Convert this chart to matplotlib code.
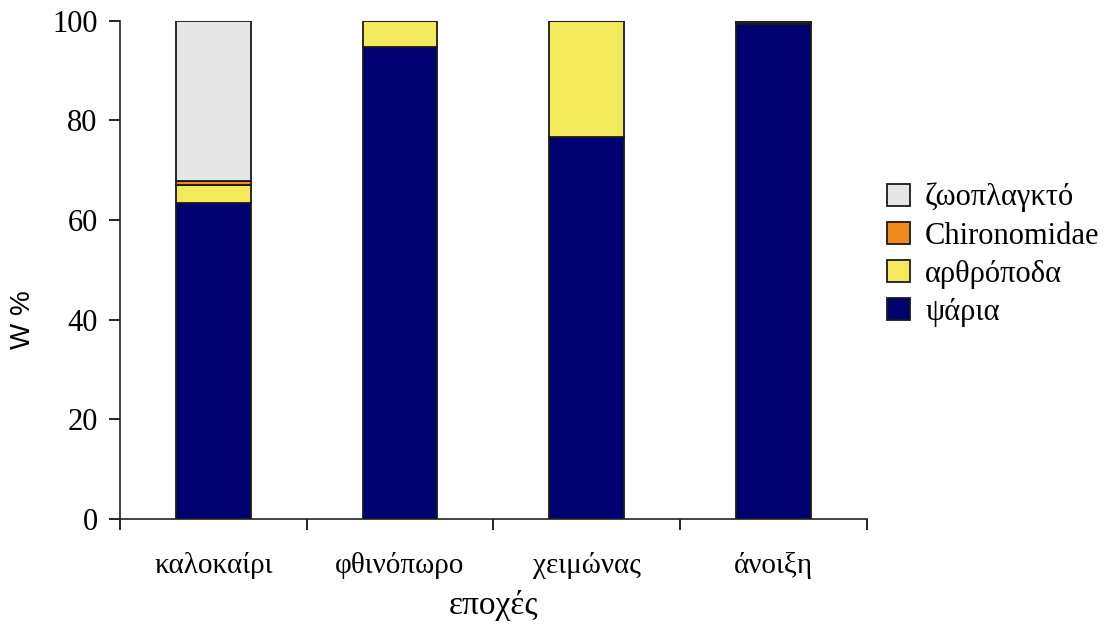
import matplotlib.pyplot as plt
import numpy as np

seasons = ['καλοκαίρι', 'φθινόπωρο', 'χειμώνας', 'άνοιξη']
psaria = [63.5, 94.8, 76.7, 99.3]
arthropoda = [3.6, 5.2, 23.3, 0.2]
chironomidae = [0.8, 0.0, 0.0, 0.5]
zooplankto = [32.1, 0.0, 0.0, 0.0]

series = [
    ('ψάρια', psaria, '#000070'),
    ('αρθρόποδα', arthropoda, '#f2ea5a'),
    ('Chironomidae', chironomidae, '#f08a1c'),
    ('ζωοπλαγκτό', zooplankto, '#e6e6e6'),
]

serif = ['Liberation Serif', 'DejaVu Serif']

fig = plt.figure(figsize=(11.2, 6.26), dpi=100)
ax = fig.add_axes([0.107, 0.171, 0.667, 0.796])

x = np.arange(len(seasons))
bottom = np.zeros(len(seasons))
handles = []
for name, vals, col in series:
    h = ax.bar(x, vals, 0.4, bottom=bottom, color=col, edgecolor='#1a1a1a',
               linewidth=1.3, label=name)
    handles.append(h)
    bottom += np.array(vals)

ax.set_xlim(-0.5, 3.5)
ax.set_ylim(0, 100)
ax.set_yticks([0, 20, 40, 60, 80, 100])
ax.set_xticks(x)
ax.set_xticklabels(seasons, family=serif, fontsize=21)
ax.set_xticks(np.arange(-0.5, 4.0, 1.0), minor=True)
ax.tick_params(axis='x', which='major', length=0, pad=24)
ax.tick_params(axis='x', which='minor', length=8, width=1.2, direction='out')
ax.tick_params(axis='y', length=8, width=1.2, direction='out', pad=8)
for lab in ax.get_yticklabels():
    lab.set_family(serif)
    lab.set_fontsize(22)

for s in ['top', 'right']:
    ax.spines[s].set_visible(False)
for s in ['left', 'bottom']:
    ax.spines[s].set_linewidth(1.2)
    ax.spines[s].set_color('#222222')

ax.set_ylabel('W %', family=['Liberation Sans', 'DejaVu Sans'], fontsize=20)
ax.yaxis.set_label_coords(-0.112, 0.40)
ax.set_xlabel('εποχές', family=serif, fontsize=24, labelpad=8)

leg = ax.legend(handles[::-1], [s[0] for s in series][::-1], loc='center left',
                bbox_to_anchor=(0.99, 0.53), frameon=False, prop={'family': serif, 'size': 22},
                handlelength=0.75, handleheight=0.75, handletextpad=0.5, labelspacing=0.3)

fig.savefig('out.png', dpi=100)
